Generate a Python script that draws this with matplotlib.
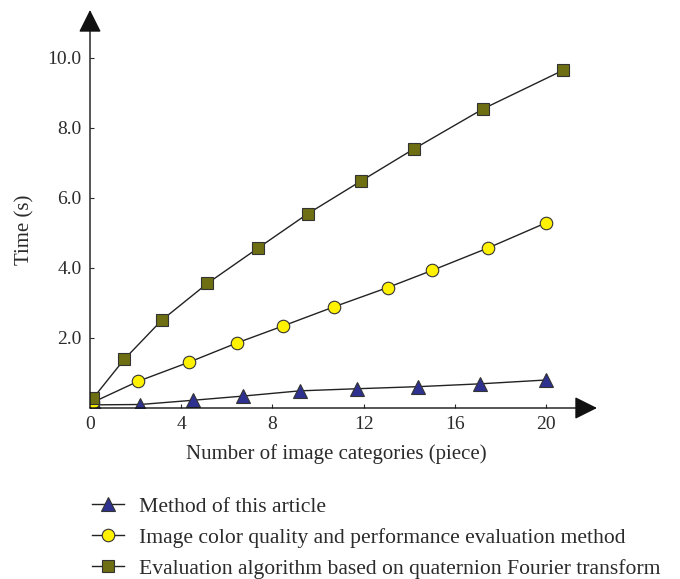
import matplotlib
matplotlib.use('Agg')
import matplotlib.pyplot as plt

plt.rcParams['font.family'] = ['Liberation Serif', 'DejaVu Serif']
TXT = '#2b2b2b'

# Method of this article (triangles)
x_tri = [0.2, 2.2, 4.5, 6.7, 9.2, 11.7, 14.4, 17.1, 20.0]
y_tri = [0.09, 0.10, 0.22, 0.34, 0.49, 0.55, 0.61, 0.69, 0.80]
# Image color quality and performance evaluation method (circles)
x_cir = [0.15, 2.1, 4.35, 6.45, 8.45, 10.7, 13.05, 15.0, 17.45, 20.0]
y_cir = [0.17, 0.76, 1.31, 1.86, 2.34, 2.89, 3.44, 3.93, 4.57, 5.29]
# Evaluation algorithm based on quaternion Fourier transform (squares)
x_sq = [0.15, 1.5, 3.15, 5.15, 7.35, 9.55, 11.9, 14.2, 17.25, 20.75]
y_sq = [0.29, 1.39, 2.51, 3.56, 4.56, 5.55, 6.49, 7.40, 8.55, 9.65]

labels = ['Method of this article',
          'Image color quality and performance evaluation method',
          'Evaluation algorithm based on quaternion Fourier transform']
x_ticks = [0, 4, 8, 12, 16, 20]
y_ticks = [2.0, 4.0, 6.0, 8.0, 10.0]

fig = plt.figure(figsize=(6.8, 5.79), dpi=100)
ax = fig.add_axes([90 / 680, 171 / 579, 507 / 680, 398 / 579])

line_kw = dict(color='#222222', lw=1.0, markeredgecolor='#333333', markeredgewidth=0.8)
h1, = ax.plot(x_tri, y_tri, marker='^', ms=9.5, markerfacecolor='#2e318f', zorder=3, **line_kw)
h2, = ax.plot(x_cir, y_cir, marker='o', ms=9, markerfacecolor='#fff200', zorder=3, **line_kw)
h3, = ax.plot(x_sq, y_sq, marker='s', ms=8.5, markerfacecolor='#6e6e12', zorder=3, **line_kw)

ax.set_xlim(0, 507 / 22.8)
ax.set_ylim(0, 398 / 35)
for s in ['top', 'right', 'left', 'bottom']:
    ax.spines[s].set_visible(False)

# axes with arrow heads
arrow = dict(arrowstyle='-|>,head_length=1.0,head_width=0.5', color='#111111',
             lw=1.0, mutation_scale=14, shrinkA=0, shrinkB=0)
ax.annotate('', xy=(1, 0), xytext=(0, 0), xycoords='axes fraction', arrowprops=arrow)
ax.annotate('', xy=(0, 1), xytext=(0, 0), xycoords='axes fraction', arrowprops=arrow)

ax.set_xticks(x_ticks)
ax.set_xticklabels([str(v) for v in x_ticks])
ax.set_yticks(y_ticks)
ax.set_yticklabels(['%.1f' % v for v in y_ticks])
ax.tick_params(direction='in', length=3, width=0.8, labelsize=14, colors=TXT, pad=6)

ax.set_xlabel('Number of image categories (piece)', fontsize=15, color=TXT, labelpad=5)
ax.xaxis.set_label_coords(246 / 507, -0.09)
fig.text(25 / 680, 1 - 230 / 579, 'Time (s)', rotation=90, fontsize=15, color=TXT,
         ha='center', va='center')

fig.legend([h1, h2, h3], labels, loc='upper left', bbox_to_anchor=(72 / 680, 1 - 477 / 579),
           frameon=False, fontsize=15.6, handlelength=1.5, handletextpad=0.7,
           labelspacing=0.5, labelcolor=TXT)

fig.savefig('out.png', dpi=100)
